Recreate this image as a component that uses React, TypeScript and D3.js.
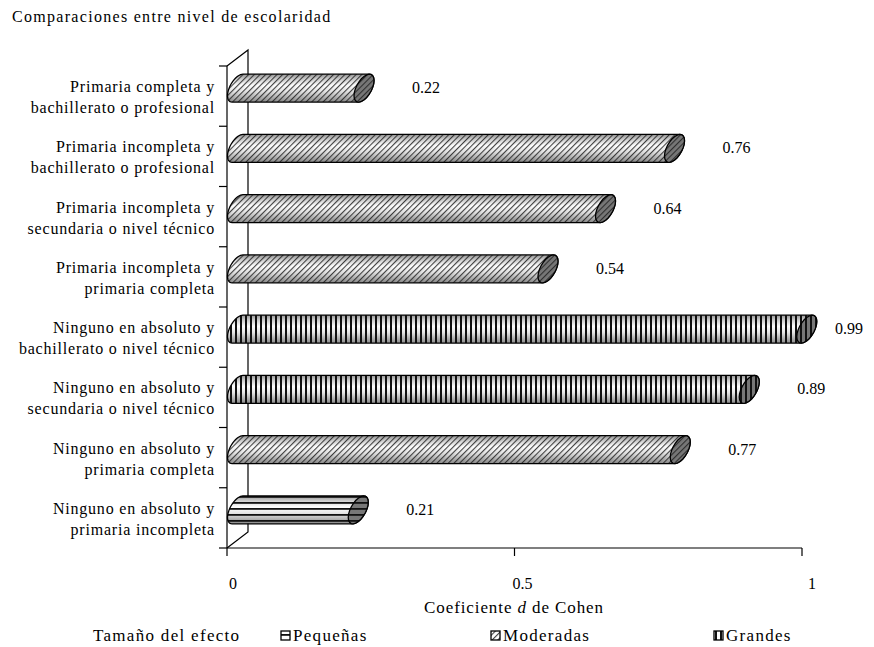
import React, { useRef, useEffect } from 'react';
import * as d3 from 'd3';

// Comparisons (top to bottom as drawn)
const categories: string[][] = [
  ['Primaria completa y', 'bachillerato o profesional'],
  ['Primaria incompleta y', 'bachillerato o profesional'],
  ['Primaria incompleta y', 'secundaria o nivel técnico'],
  ['Primaria incompleta y', 'primaria completa'],
  ['Ninguno en absoluto y', 'bachillerato o nivel técnico'],
  ['Ninguno en absoluto y', 'secundaria o nivel técnico'],
  ['Ninguno en absoluto y', 'primaria completa'],
  ['Ninguno en absoluto y', 'primaria incompleta'],
];
const values = [0.22, 0.76, 0.64, 0.54, 0.99, 0.89, 0.77, 0.21];
const effects = ['Moderadas', 'Moderadas', 'Moderadas', 'Moderadas', 'Grandes', 'Grandes', 'Moderadas', 'Pequeñas'];
const xTicks = [0, 0.5, 1];
const legendItems = ['Pequeñas', 'Moderadas', 'Grandes'];

const W = 874;
const H = 647;
const FONT = '"Liberation Serif", "Times New Roman", serif';
// legend swatch left edges
const legendX = [281, 491, 714];

const patternId: Record<string, string> = {
  'Pequeñas': 'pat-h',
  'Moderadas': 'pat-d',
  'Grandes': 'pat-v',
};

const App: React.FC = () => {
  const svgRef = useRef<SVGSVGElement>(null);

  useEffect(() => {
    if (!svgRef.current) return;
    const svg = d3.select(svgRef.current);
    svg.selectAll('*').remove();

    const x = d3.scaleLinear().domain([0, 1]).range([227, 802]);
    const y = d3.scaleBand<number>().domain(d3.range(categories.length)).range([66, 548]);
    const depthX = 21;
    const depthY = 16;

    const defs = svg.append('defs');

    // cylinder shading
    const grad = defs.append('linearGradient')
      .attr('id', 'cyl').attr('x1', 0).attr('y1', 0).attr('x2', 0).attr('y2', 1);
    [[0, '#969696'], [0.18, '#cfcfcf'], [0.4, '#ffffff'], [0.62, '#e4e4e4'], [1, '#888888']]
      .forEach(([o, c]) => grad.append('stop').attr('offset', o as number).attr('stop-color', c as string));

    // hatch patterns
    const pd = defs.append('pattern').attr('id', 'pat-d').attr('patternUnits', 'userSpaceOnUse')
      .attr('width', 4).attr('height', 4).attr('patternTransform', 'rotate(45)');
    pd.append('rect').attr('x', 0).attr('y', 0).attr('width', 1.1).attr('height', 4)
      .attr('fill', '#222').attr('fill-opacity', 0.85);

    const pv = defs.append('pattern').attr('id', 'pat-v').attr('patternUnits', 'userSpaceOnUse')
      .attr('width', 5).attr('height', 5);
    pv.append('rect').attr('x', 0).attr('y', 0).attr('width', 2).attr('height', 5).attr('fill', '#111');

    const ph = defs.append('pattern').attr('id', 'pat-h').attr('patternUnits', 'userSpaceOnUse')
      .attr('width', 6).attr('height', 6);
    ph.append('rect').attr('x', 0).attr('y', 4).attr('width', 6).attr('height', 1.8).attr('fill', '#111');

    // walls
    const frame = svg.append('g').attr('fill', 'none').attr('stroke', '#000').attr('stroke-width', 1.2);
    const [y0, y1] = y.range();
    frame.append('path').attr('d', `M${x(0)},${y0}L${x(0) + depthX},${y0 - depthY}L${x(0) + depthX},${y1 - depthY}L${x(0)},${y1}`);
    frame.append('line').attr('x1', x(0)).attr('x2', x(0)).attr('y1', y0).attr('y2', y1);
    frame.append('line').attr('x1', x(0)).attr('x2', x(1)).attr('y1', y1).attr('y2', y1);
    // category ticks
    d3.range(categories.length + 1).forEach(i => {
      const ty = y0 + i * y.step();
      frame.append('line').attr('x1', x(0) - 8).attr('x2', x(0)).attr('y1', ty).attr('y2', ty);
    });
    // value ticks
    xTicks.forEach(t => {
      frame.append('line').attr('x1', x(t)).attr('x2', x(t)).attr('y1', y1).attr('y2', y1 + 8);
    });

    // cylinders
    const r = 11.7;
    const ex = 10;
    const ey = 7.6;
    const tTop = Math.PI - Math.atan(ey / r);
    const tBot = -Math.atan(ey / r);
    const pt = (cx: number, cy: number, t: number): [number, number] =>
      [cx + ex * Math.sin(t), cy + r * Math.cos(t) - ey * Math.sin(t)];
    const arc = (cx: number, cy: number, a: number, b: number) =>
      d3.range(25).map(k => pt(cx, cy, a + (b - a) * k / 24));
    const line = d3.line();

    const bars = svg.append('g');
    values.forEach((v, i) => {
      const cy = (y(i) as number) + y.bandwidth() / 2 - depthY / 2;
      const cxa = x(0) + depthX / 2;
      const cxb = x(v) + depthX / 2;
      const body = [
        ...arc(cxa, cy, tBot, tTop - 2 * Math.PI),
        ...arc(cxb, cy, tTop, tBot),
      ];
      const bodyPath = line(body) + 'Z';
      const capPath = line(arc(cxb, cy, 0, 2 * Math.PI)) + 'Z';
      const pid = patternId[effects[i]];
      bars.append('path').attr('d', bodyPath).attr('fill', 'url(#cyl)');
      bars.append('path').attr('d', bodyPath).attr('fill', `url(#${pid})`)
        .attr('stroke', '#000').attr('stroke-width', 1.3);
      bars.append('path').attr('d', capPath).attr('fill', '#777');
      bars.append('path').attr('d', capPath).attr('fill', `url(#${pid})`)
        .attr('stroke', '#000').attr('stroke-width', 1.3);

      // value label
      bars.append('text')
        .attr('x', Math.min(cxb + 48, 835))
        .attr('y', cy + 5)
        .attr('font-size', 16)
        .attr('font-family', FONT)
        .text(v.toFixed(2));
    });

    // category labels
    const labels = svg.append('g').attr('font-family', FONT).attr('font-size', 16)
      .attr('text-anchor', 'end').attr('letter-spacing', 0.8);
    categories.forEach((lines, i) => {
      const cy = (y(i) as number) + y.bandwidth() / 2;
      const t = labels.append('text').attr('x', 215).attr('y', cy - 4);
      lines.forEach((s, k) => {
        t.append('tspan').attr('x', 215).attr('dy', k === 0 ? 0 : 21).text(s);
      });
    });

    // x tick labels
    svg.append('g').attr('font-family', FONT).attr('font-size', 16).attr('text-anchor', 'middle')
      .selectAll('text').data(xTicks).enter().append('text')
      .attr('x', d => x(d) + 6 + d * 4)
      .attr('y', 589)
      .text(d => String(d));

    // axis title
    const at = svg.append('text').attr('x', 514).attr('y', 613).attr('text-anchor', 'middle')
      .attr('font-family', FONT).attr('font-size', 17).attr('letter-spacing', 0.9);
    at.append('tspan').text('Coeficiente ');
    at.append('tspan').attr('font-style', 'italic').text('d');
    at.append('tspan').text(' de Cohen');

    // title
    svg.append('text').attr('x', 12).attr('y', 22).attr('font-family', FONT).attr('font-size', 16)
      .attr('letter-spacing', 1.3).text('Comparaciones entre nivel de escolaridad');

    // legend
    const leg = svg.append('g').attr('font-family', FONT).attr('font-size', 17).attr('letter-spacing', 1.3);
    leg.append('text').attr('x', 93).attr('y', 641).text('Tamaño del efecto');
    legendItems.forEach((name, k) => {
      const lx = legendX[k];
      leg.append('rect').attr('x', lx).attr('y', 631).attr('width', 9).attr('height', 9)
        .attr('fill', '#fff');
      leg.append('rect').attr('x', lx).attr('y', 631).attr('width', 9).attr('height', 9)
        .attr('fill', `url(#${patternId[name]})`).attr('stroke', '#000').attr('stroke-width', 1.3);
      leg.append('text').attr('x', lx + 12).attr('y', 641).text(name);
    });
  }, []);

  return (
    <svg
      ref={svgRef}
      width={W}
      height={H}
      style={{ position: 'absolute', left: 0, top: 0, background: '#fff', display: 'block' }}
    />
  );
};

export default App;
